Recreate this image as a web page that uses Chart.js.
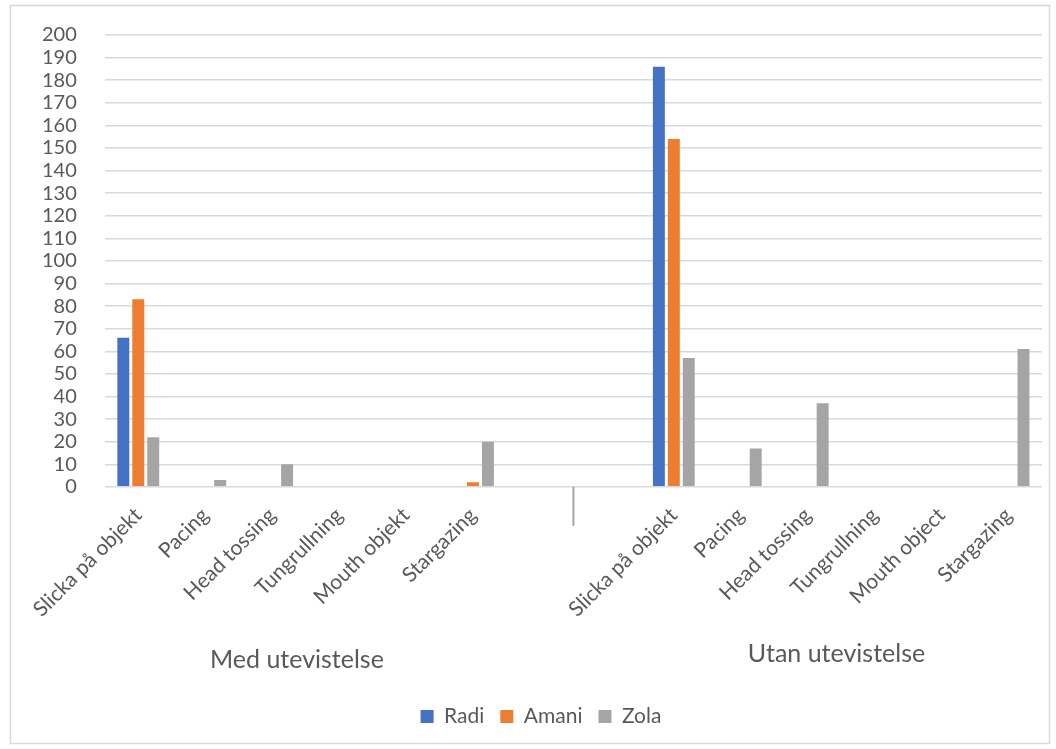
<!DOCTYPE html>
<html>
<head>
<meta charset="utf-8">
<script src="https://cdn.jsdelivr.net/npm/chart.js@4.4.1/dist/chart.umd.min.js"></script>
<style>
html, body { margin: 0; padding: 0; background: #fff; }
#wrap { width: 1056px; height: 749px; }
</style>
</head>
<body>
<div id="wrap"><canvas id="chart"></canvas></div>
<script>
// blank rows in the sheet sit at the end of group 1 and start of group 2
const categories = ["Slicka på objekt", "Pacing", "Head tossing", "Tungrullning", "Mouth objekt", "Stargazing", "",
                    "", "Slicka på objekt", "Pacing", "Head tossing", "Tungrullning", "Mouth object", "Stargazing"];
const groups = ["Med utevistelse", "Utan utevistelse"];
const radi  = [66, null, null, null, null, null, null, null, 186, null, null, null, null, null];
const amani = [83, null, null, null, null, 2, null, null, 154, null, null, null, null, null];
const zola  = [22, 3, 10, null, null, 20, null, null, 57, 17, 37, null, null, 61];
const yTicks = [0, 200, 10];

const FONT = "Lato";
const TEXT = "#595959";

// outer frame + group labels under the category axis
const frame = {
  id: "frame",
  afterLayout(chart) {
    // legend sits a bit right of centre in the original
    chart.legend.left += 13;
    chart.legend.right += 13;
  },
  beforeDraw(chart) {
    const ctx = chart.ctx;
    ctx.save();
    ctx.fillStyle = "#fff";
    ctx.fillRect(0, 0, chart.width, chart.height);
    ctx.strokeStyle = "#d9d9d9";
    ctx.lineWidth = 1.5;
    ctx.strokeRect(10.5, 5.5, 1039, 738);
    ctx.restore();
  },
  afterDraw(chart) {
    const ctx = chart.ctx;
    const x = chart.scales.x;
    ctx.save();
    // separator between the two groups
    const sx = x.getPixelForValue(6.5);
    ctx.strokeStyle = "#a6a6a6";
    ctx.lineWidth = 2;
    ctx.beginPath();
    ctx.moveTo(sx, x.top);
    ctx.lineTo(sx, x.top + 39);
    ctx.stroke();

    ctx.font = "25px " + FONT;
    ctx.fillStyle = TEXT;
    ctx.textAlign = "center";
    ctx.textBaseline = "middle";
    ctx.fillText(groups[0], x.getPixelForValue(2.37), 660);
    ctx.fillText(groups[1], x.getPixelForValue(10.43), 654);
    ctx.restore();
  }
};

const ctx = document.getElementById("chart").getContext("2d");
new Chart(ctx, {
  type: "bar",
  data: {
    labels: categories,
    datasets: [
      { label: "Radi",  data: radi,  backgroundColor: "#4472C4" },
      { label: "Amani", data: amani, backgroundColor: "#ED7D31" },
      { label: "Zola",  data: zola,  backgroundColor: "#A5A5A5" }
    ]
  },
  options: {
    responsive: true,
    maintainAspectRatio: false,
    animation: false,
    datasets: {
      bar: { categoryPercentage: 0.67, barPercentage: 0.8 }
    },
    layout: { padding: { left: 14, right: 14, top: 35, bottom: 12 } },
    plugins: {
      tooltip: { enabled: false },
      legend: {
        position: "bottom",
        labels: {
          boxWidth: 13,
          boxHeight: 13,
          padding: 16,
          color: TEXT,
          font: { family: FONT, size: 21 }
        }
      }
    },
    scales: {
      x: {
        grid: { display: false, drawTicks: false },
        border: { display: false },
        ticks: {
          autoSkip: false,
          minRotation: 45,
          maxRotation: 45,
          padding: 16,
          labelOffset: 0,
          color: TEXT,
          font: { family: FONT, size: 21 }
        },
        afterFit(scale) {
          scale.height += 52;
        }
      },
      y: {
        min: yTicks[0],
        max: yTicks[1],
        grid: { color: "#d9d9d9", lineWidth: 1.5, drawTicks: false },
        border: { display: false },
        ticks: {
          stepSize: yTicks[2],
          autoSkip: false,
          padding: 28,
          color: TEXT,
          font: { family: FONT, size: 20 }
        },
        afterFit(scale) {
          scale.paddingTop = 0;
        }
      }
    }
  },
  plugins: [frame]
});
</script>
</body>
</html>
